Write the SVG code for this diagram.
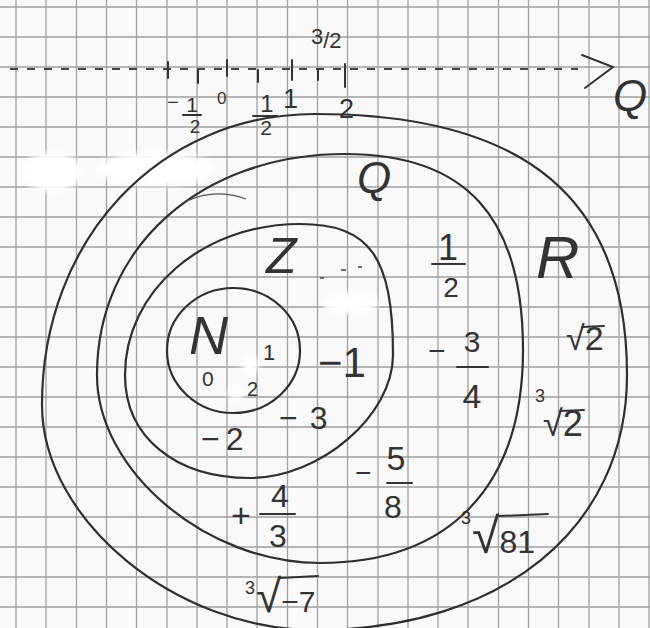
<svg xmlns="http://www.w3.org/2000/svg" width="650" height="628" viewBox="0 0 650 628">
<defs>
<style>
.grid{stroke:#a0a0a0;stroke-width:1.3;fill:none}
.set{stroke:#2f2f2f;stroke-width:2.2;fill:none;stroke-linecap:round}
.pen{stroke:#333;stroke-width:2;fill:none;stroke-linecap:round}
.t{font-family:"Liberation Sans",Arial,sans-serif;fill:#333}
.lbl{font-family:"Liberation Sans",Arial,sans-serif;fill:#333;font-style:italic}
.m{text-anchor:middle}
.blot{fill:#ffffff}
</style>
<filter id="soft" x="-30%" y="-30%" width="160%" height="160%"><feGaussianBlur stdDeviation="3"/></filter>
</defs>
<rect width="650" height="628" fill="#f9f9f9"/>
<path class="grid" d="M16,0V628M46,0V628M76.5,0V628M106.5,0V628M136.5,0V628M167,0V628M197,0V628M227,0V628M257,0V628M287.5,0V628M317.5,0V628M347.5,0V628M378,0V628M408,0V628M438,0V628M468,0V628M498.5,0V628M528.5,0V628M558.5,0V628M589,0V628M619,0V628M649,0V628M0,7H650M0,37H650M0,67H650M0,97H650M0,127H650M0,157H650M0,187H650M0,217H650M0,247H650M0,277H650M0,307H650M0,337H650M0,367H650M0,397H650M0,427H650M0,457H650M0,487H650M0,517H650M0,547H650M0,577H650M0,607H650"/>
<g id="blots" filter="url(#soft)">
<ellipse class="blot" cx="52" cy="172" rx="30" ry="20"/>
<ellipse class="blot" cx="155" cy="169" rx="58" ry="17"/>
<ellipse class="blot" cx="350" cy="303" rx="28" ry="11"/>
<ellipse class="blot" cx="250" cy="365" rx="9" ry="9"/>
<ellipse class="blot" cx="236" cy="393" rx="8" ry="7"/>
</g>
<g id="number-line">
<path d="M10,69H578" stroke="#444" stroke-width="2" stroke-dasharray="8 9" fill="none"/>
<path class="pen" d="M168,62V78M198,70V83M227,60V76M258,70V82M292,60V80M318,70V80M345,64V87"/>
<path class="pen" d="M582,55L613,67L585,88" stroke-width="2.6"/>
<text class="t" x="311" y="44" font-size="22">3<tspan dy="4">/2</tspan></text>
<text class="t" x="167" y="109" font-size="20">−</text>
<text class="t m" x="192" y="112" font-size="21">1</text>
<line class="pen" x1="183" y1="115" x2="201" y2="115"/>
<text class="t m" x="195" y="133" font-size="19">2</text>
<text class="t" x="217" y="104" font-size="17">0</text>
<text class="t m" x="267" y="112" font-size="24">1</text>
<line class="pen" x1="253" y1="116" x2="277" y2="116"/>
<text class="t m" x="266" y="135" font-size="21">2</text>
<text class="t" x="283" y="108" font-size="27">1</text>
<text class="t" x="339" y="118" font-size="27">2</text>
<text class="lbl" x="613" y="111" font-size="44">Q</text>
</g>
<g id="set-R">
<path class="set" d="M315,114C525.6,114 627,198.8 627,375C627,528 502.2,630 315,630C175.8,630 42,519.8 42,405C42,239.1 159.4,114 315,114Z"/>
<text class="lbl" x="536" y="278" font-size="60">R</text>
<text class="t" x="566" y="350" font-size="34">√2</text>
<line class="pen" x1="582" y1="327" x2="604" y2="326"/>
<text class="t" x="535" y="402" font-size="18">3</text>
<text class="t" x="543" y="436" font-size="36">√2</text>
<line class="pen" x1="560" y1="411" x2="584" y2="410"/>
<text class="t" x="461" y="524" font-size="18">3</text>
<text class="t" x="472" y="553" font-size="32"><tspan font-size="50">√</tspan>81</text>
<line class="pen" x1="499" y1="516" x2="548" y2="514"/>
<text class="t" x="245" y="594" font-size="18">3</text>
<text class="t" x="256" y="612" font-size="30"><tspan font-size="46">√</tspan>−7</text>
<line class="pen" x1="280" y1="578" x2="318" y2="576"/>
</g>
<g id="set-Q">
<path class="set" d="M345,154C466,154 523,216.7 523,350C523,486.3 449.9,563 320,563C206.3,563 97,470.9 97,375C97,246.8 201.2,154 345,154Z"/>
<path d="M187,201Q215,188 246,199" stroke="#555" stroke-width="1.3" fill="none"/>
<text class="lbl" x="357" y="193" font-size="44">Q</text>
<text class="t m" x="448" y="260" font-size="36">1</text>
<line class="pen" x1="432" y1="264" x2="465" y2="264"/>
<text class="t m" x="451" y="297" font-size="28">2</text>
<text class="t" x="428" y="361" font-size="30">−</text>
<text class="t m" x="472" y="352" font-size="30">3</text>
<line class="pen" x1="457" y1="367" x2="488" y2="367"/>
<text class="t m" x="472" y="408" font-size="34">4</text>
<text class="t" x="355" y="482" font-size="28">−</text>
<text class="t m" x="396" y="470" font-size="34">5</text>
<line class="pen" x1="387" y1="483" x2="412" y2="483"/>
<text class="t m" x="393" y="518" font-size="32">8</text>
<text class="t" x="231" y="527" font-size="34">+</text>
<text class="t m" x="280" y="507" font-size="32">4</text>
<line class="pen" x1="260" y1="514" x2="295" y2="514"/>
<text class="t m" x="278" y="547" font-size="32">3</text>
</g>
<g id="set-Z">
<path class="set" d="M300,224C369.75,224 393,256.75 393,355C393,415.3 320.1,478 250,478C175,478 125,436.8 125,375C125,291 202.7,224 300,224Z"/>
<text class="lbl" x="266" y="273" font-size="50">Z</text>
<text class="t" x="318" y="377" font-size="42">−1</text>
<text class="t" x="279" y="429" font-size="32">−<tspan dx="12">3</tspan></text>
<text class="t" x="201" y="450" font-size="32">−<tspan dx="6">2</tspan></text>
<path d="M320,278h4M341,270h5M358,267h4" stroke="#444" stroke-width="1.5"/>
</g>
<g id="set-N">
<ellipse class="set" cx="233.5" cy="350.5" rx="66.5" ry="62.5"/>
<text class="lbl" x="189" y="354" font-size="54">N</text>
<text class="t" x="263" y="360" font-size="22">1</text>
<text class="t" x="202" y="386" font-size="21">0</text>
<text class="t" x="247" y="396" font-size="20">2</text>
</g>
</svg>
